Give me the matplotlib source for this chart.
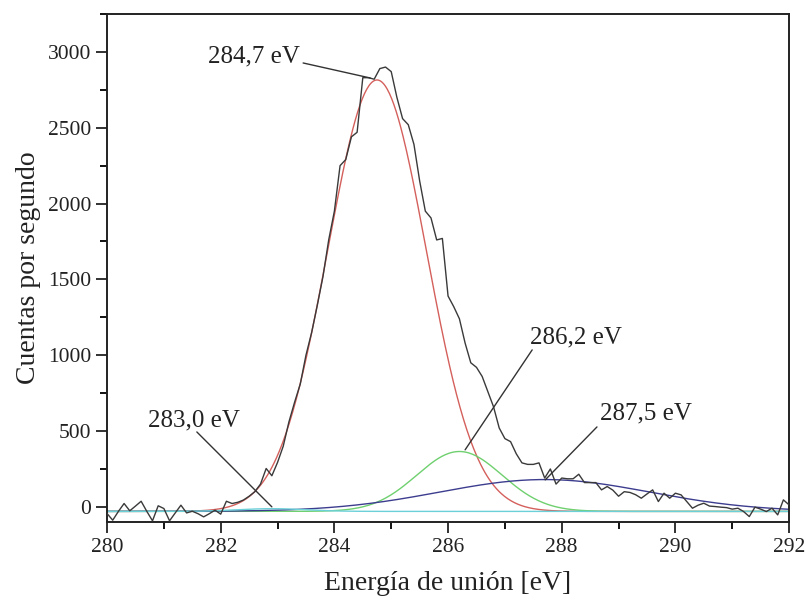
import numpy as np
import matplotlib
matplotlib.use('Agg')
import matplotlib.pyplot as plt
from matplotlib.ticker import MultipleLocator

plt.rcParams['font.family'] = ['Liberation Serif', 'DejaVu Serif']

# measured spectrum (binding energy in eV, counts per second)
energy = np.round(np.arange(280.0, 292.05, 0.1), 1)
counts = [
    -44, -88, -30, 22, -26, 5, 37, -30, -92, 7,
    -11, -92, -40, 11, -40, -29, -45, -66, -45, -22,
    -48, 37, 22, 30, 45, 70, 100, 150, 253, 205,
    293, 400, 560, 690, 810, 1000, 1150, 1330, 1520, 1760,
    1950, 2250, 2290, 2440, 2470, 2830, 2830, 2820, 2890, 2900,
    2870, 2700, 2560, 2520, 2390, 2150, 1950, 1905, 1760, 1770,
    1390, 1320, 1240, 1080, 950, 920, 860, 760, 660, 520,
    450, 430, 350, 290, 280, 280, 290, 190, 250, 150,
    190, 185, 185, 215, 160, 160, 160, 112, 134, 110,
    70, 100, 95, 80, 57, 85, 112, 35, 90, 57,
    90, 79, 35, -9, 11, 24, 5, 2, -2, -5,
    -15, -9, -31, -64, -2, -15, -31, -9, -53, 46,
    13,
]

# fitted components: centre (eV), height, sigma (eV)
baseline = -30
peak_centres = [284.75, 286.2, 287.7, 282.9]
peak_heights = [2845, 395, 210, 18]
peak_sigmas = [0.866, 0.75, 1.85, 0.6]
peak_colors = ['#d4605c', '#6fd06f', '#3d3d8f', '#6cd0d8']

# annotations: label, point on curve, start of leader line, text anchor
labels = ['284,7 eV', '283,0 eV', '286,2 eV', '287,5 eV']
label_points = [(284.63, 2828), (282.9, 0), (286.3, 376), (287.71, 178)]
label_starts = [(283.45, 2927), (281.58, 494), (287.48, 1035), (288.62, 527)]
label_text = [(283.40, 2973, 'right'), (280.72, 567, 'left'),
              (287.44, 1114, 'left'), (288.675, 613, 'left')]

fig = plt.figure(figsize=(8.06, 6.03), dpi=100)
ax = fig.add_axes([0.1328, 0.1343, 0.979 - 0.1328, 0.9768 - 0.1343])

ax.plot(energy, counts, color='#3a3a3a', lw=1.0, zorder=3)

xs = np.linspace(280, 292, 600)
for c, h, s, col in zip(peak_centres, peak_heights, peak_sigmas, peak_colors):
    ax.plot(xs, baseline + h * np.exp(-(xs - c) ** 2 / (2 * s ** 2)), color=col, lw=1.0, zorder=2)

for lab, pt, st, (tx, ty, ha) in zip(labels, label_points, label_starts, label_text):
    ax.annotate('', xy=pt, xytext=st,
                arrowprops=dict(arrowstyle='-', color='#333333', lw=1.0, shrinkA=0, shrinkB=0))
    ax.text(tx, ty, lab, ha=ha, va='center', fontsize=18, color='#222222')

ax.set_xlim(280, 292)
ax.set_ylim(-100, 3250)
ax.xaxis.set_major_locator(MultipleLocator(2))
ax.xaxis.set_minor_locator(MultipleLocator(1))
ax.yaxis.set_major_locator(MultipleLocator(500))
ax.yaxis.set_minor_locator(MultipleLocator(250))
ax.tick_params(which='major', direction='out', length=8, width=1.3, labelsize=15.5, colors='#222222')
ax.tick_params(which='minor', direction='out', length=5, width=1.3)
for sp in ax.spines.values():
    sp.set_linewidth(1.4)
    sp.set_color('#222222')

ax.set_xlabel('Energía de unión [eV]', fontsize=20, labelpad=10, color='#222222')
ax.set_ylabel('Cuentas por segundo', fontsize=20, labelpad=5, color='#222222')

fig.savefig('out.png', dpi=100)
